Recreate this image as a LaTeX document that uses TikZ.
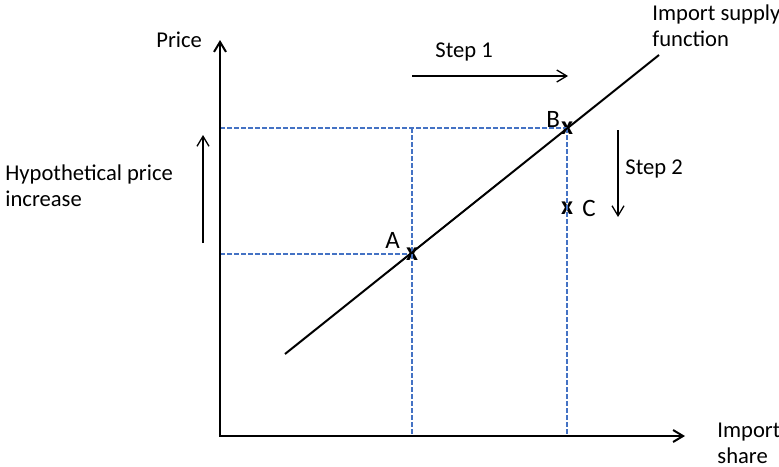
\documentclass[tikz,border=0pt]{standalone}
\usepackage{fontspec}
\setmainfont{Carlito}
\usetikzlibrary{arrows.meta}
\definecolor{guideblue}{RGB}{68,114,196}

\begin{document}
\begin{tikzpicture}[x=0.5pt, y=-0.5pt,
  axis/.style={line width=1pt, {Straight Barb[length=5pt,width=6pt]}-{Straight Barb[length=5pt,width=6pt]}},
  thinarrow/.style={line width=0.65pt, -{Straight Barb[length=5pt,width=6pt]}},
  supply/.style={line width=1pt},
  guide/.style={draw=guideblue, line width=0.75pt, dash pattern=on 2.5pt off 1pt},
  txt/.style={font=\fontsize{11.3}{13}\selectfont, inner sep=0pt, anchor=base west, align=left},
  pointx/.style={font=\fontsize{13}{15}\selectfont\bfseries, inner sep=0pt},
  ptlabel/.style={font=\fontsize{12.5}{15}\selectfont, inner sep=0pt, anchor=base west}
]
\useasboundingbox (0,0) rectangle (779,466);

% axes and supply function
\coordinate (O) at (220,436);
\coordinate (ytop) at (220,40);
\coordinate (xend) at (685,436);
\coordinate (s0) at (285,354);
\coordinate (s1) at (659,55);

\node[pointx] (A) at (412,254) {x};
\node[pointx] (B) at (567,128) {x};
\node[pointx] (C) at (567,208) {x};

\draw[guide] (O |- B) -- (B.center);
\draw[guide] (O |- A) -- (A.center);
\draw[guide] (A |- B) -- (A |- O);
\draw[guide] (B.center) -- (B |- O);

\draw[axis] (ytop) -- (O) -- (xend);
\draw[supply] (s0) -- (s1);

\node[ptlabel] (Alab) at (385,248) {A};
\node[ptlabel] (Blab) at (546,127) {B};
\node[ptlabel] (Clab) at (582,216) {C};

% steps
\coordinate (st1a) at (412,76);
\coordinate (st1b) at (568,76);
\draw[thinarrow] (st1a) -- (st1b);
\node[txt] (step1) at (435,57) {Step 1};

\coordinate (st2a) at (618,130);
\coordinate (st2b) at (618,217);
\draw[thinarrow] (st2a) -- (st2b);
\node[txt] (step2) at (625,174) {Step 2};

\coordinate (hypa) at (203,243);
\coordinate (hypb) at (203,135);
\draw[thinarrow] (hypa) -- (hypb);
\node[txt] (hyp) at (5,206) {Hypothetical price\\increase};

% axis labels
\node[txt] (price) at (156,47) {Price};
\node[txt] (supplylab) at (652,46) {Import supply\\function};
\node[txt] (sharelab) at (717,463) {Import\\share};
\end{tikzpicture}
\end{document}
